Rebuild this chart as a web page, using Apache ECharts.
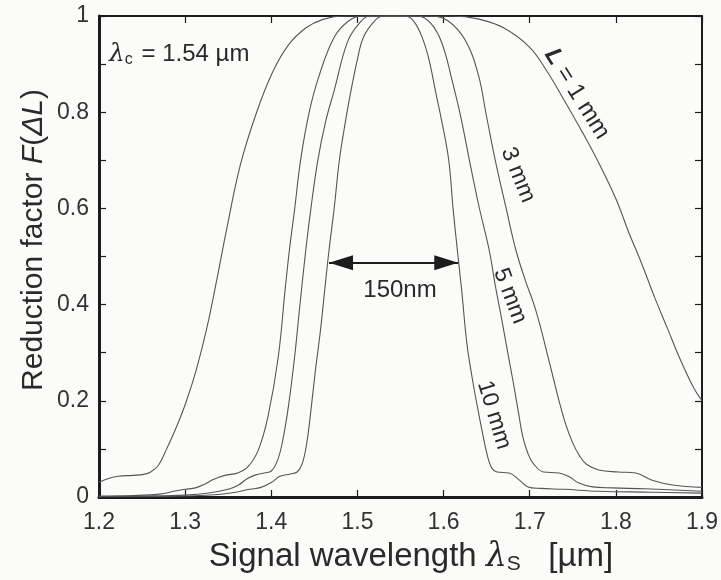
<!DOCTYPE html>
<html>
<head>
<meta charset="utf-8">
<script src="https://cdn.jsdelivr.net/npm/echarts@6/dist/echarts.min.js"></script>
<style>
  html, body { margin: 0; padding: 0; background: #fbfbfa; }
  #chart { width: 721px; height: 580px; }
</style>
</head>
<body>
<div id="chart"></div>
<script>
// Reduction factor F(ΔL) versus signal wavelength, one curve per length L.
// Each entry: [wavelength in µm, F]
const curveL1mm = [
  [1.200,0.030],[1.210,0.038],[1.222,0.043],[1.240,0.045],[1.252,0.047],[1.260,0.052],
  [1.269,0.066],[1.278,0.098],[1.290,0.146],[1.301,0.197],[1.313,0.265],[1.325,0.350],
  [1.336,0.445],[1.348,0.555],[1.364,0.690],[1.383,0.800],[1.402,0.885],[1.420,0.940],
  [1.440,0.975],[1.460,0.993],[1.485,1.000],
  [1.610,1.000],[1.640,0.994],[1.670,0.975],[1.700,0.935],[1.720,0.885],[1.740,0.825],
  [1.760,0.762],[1.780,0.695],[1.800,0.620],[1.815,0.550],[1.830,0.485],[1.845,0.415],
  [1.860,0.350],[1.875,0.285],[1.890,0.228],[1.900,0.200]
];
const curveL3mm = [
  [1.200,0.002],[1.240,0.003],[1.270,0.006],[1.290,0.013],[1.300,0.016],[1.312,0.019],
  [1.322,0.026],[1.332,0.036],[1.346,0.045],[1.361,0.050],[1.373,0.063],[1.385,0.098],
  [1.396,0.166],[1.408,0.290],[1.416,0.430],[1.421,0.513],[1.427,0.597],[1.434,0.700],
  [1.444,0.800],[1.455,0.873],[1.473,0.956],[1.490,0.990],[1.505,1.000],
  [1.585,1.000],[1.605,0.990],[1.625,0.950],[1.640,0.880],[1.650,0.790],[1.660,0.700],
  [1.672,0.605],[1.684,0.513],[1.695,0.450],[1.705,0.400],[1.713,0.350],[1.720,0.300],
  [1.727,0.250],[1.734,0.200],[1.742,0.150],[1.750,0.112],[1.758,0.085],[1.766,0.068],
  [1.780,0.056],[1.803,0.052],[1.823,0.050],[1.842,0.035],[1.866,0.025],[1.900,0.020]
];
const curveL5mm = [
  [1.200,0.001],[1.250,0.002],[1.300,0.004],[1.330,0.009],[1.350,0.016],[1.362,0.025],
  [1.372,0.038],[1.382,0.046],[1.392,0.050],[1.400,0.054],[1.407,0.075],[1.413,0.115],
  [1.420,0.190],[1.427,0.290],[1.433,0.395],[1.440,0.513],[1.446,0.600],[1.454,0.700],
  [1.463,0.780],[1.473,0.845],[1.488,0.944],[1.500,0.980],[1.515,1.000],
  [1.570,1.000],[1.585,0.985],[1.598,0.944],[1.610,0.865],[1.620,0.790],[1.630,0.700],
  [1.641,0.605],[1.653,0.513],[1.660,0.440],[1.667,0.374],[1.674,0.305],[1.681,0.237],
  [1.687,0.175],[1.692,0.125],[1.698,0.090],[1.704,0.070],[1.716,0.052],[1.734,0.050],
  [1.746,0.042],[1.757,0.029],[1.773,0.021],[1.796,0.019],[1.834,0.017],[1.900,0.012]
];
const curveL10mm = [
  [1.200,0.000],[1.300,0.002],[1.330,0.004],[1.355,0.009],[1.375,0.016],[1.388,0.020],
  [1.400,0.030],[1.410,0.043],[1.422,0.048],[1.430,0.052],[1.436,0.070],[1.441,0.110],
  [1.446,0.180],[1.451,0.260],[1.457,0.345],[1.462,0.430],[1.467,0.513],[1.473,0.600],
  [1.479,0.700],[1.486,0.780],[1.492,0.840],[1.500,0.910],[1.507,0.956],[1.520,0.990],
  [1.530,1.000],
  [1.555,1.000],[1.565,0.990],[1.575,0.956],[1.583,0.910],[1.591,0.840],[1.598,0.780],
  [1.606,0.700],[1.611,0.600],[1.616,0.513],[1.621,0.430],[1.627,0.320],[1.633,0.250],
  [1.639,0.190],[1.645,0.135],[1.651,0.085],[1.656,0.060],[1.662,0.052],[1.676,0.050],
  [1.688,0.035],[1.698,0.021],[1.712,0.018],[1.740,0.016],[1.780,0.012],[1.840,0.010],
  [1.900,0.008]
];

// Axis tick labels
const xTickLabels = ['1.2','1.3','1.4','1.5','1.6','1.7','1.8','1.9'];
const yTickLabels = ['0','0.2','0.4','0.6','0.8','1'];

// Bandwidth arrow for the 10 mm curve
const bandwidthNm = 150;
const arrowStart = 1.467;
const arrowLevel = 0.487;

const chart = echarts.init(document.getElementById('chart'), null, { renderer: 'canvas' });

const FONT = '"Liberation Sans", Arial, Helvetica, sans-serif';
const INK = '#1c1c1c';
const TEXT = '#2a2a2a';
const CURVE = '#555555';
const ARROW_LEN = 24;

const xBase = {
  type: 'value', min: 1.2, max: 1.9, interval: 0.1,
  splitLine: { show: false },
  axisTick: { inside: true, length: 7, lineStyle: { color: INK, width: 1.2 } }
};
const yBase = {
  type: 'value', min: 0, max: 1, interval: 0.1,
  splitLine: { show: false },
  axisTick: { inside: true, length: 7, lineStyle: { color: INK, width: 1.2 } }
};

function curveSeries(name, data, extra) {
  return Object.assign({
    name, type: 'line', data,
    xAxisIndex: 0, yAxisIndex: 0,
    showSymbol: false, smooth: 0.4,
    lineStyle: { color: CURVE, width: 1.1 },
    silent: true, z: 3
  }, extra || {});
}

const option = {
  backgroundColor: '#fbfbfa',
  animation: false,
  grid: { left: 99, top: 16, right: 17, bottom: 83, containLabel: false },
  xAxis: [
    Object.assign({}, xBase, {
      position: 'bottom',
      axisLine: { onZero: false, lineStyle: { color: INK, width: 3 } },
      axisLabel: {
        margin: 14, fontSize: 23, fontFamily: FONT, color: '#333',
        formatter: v => xTickLabels[Math.round((v - 1.2) * 10)] || ''
      }
    }),
    Object.assign({}, xBase, {
      position: 'top',
      axisLine: { onZero: false, lineStyle: { color: INK, width: 2 } },
      axisLabel: { show: false }
    })
  ],
  yAxis: [
    Object.assign({}, yBase, {
      position: 'left',
      axisLine: { onZero: false, show: true, lineStyle: { color: INK, width: 3 } },
      axisLabel: {
        margin: 10, fontSize: 23, fontFamily: FONT, color: '#333',
        formatter: v => {
          const k = Math.round(v * 10);
          return k % 2 === 0 ? yTickLabels[k / 2] : '';
        }
      }
    }),
    Object.assign({}, yBase, {
      position: 'right',
      axisLine: { onZero: false, show: true, lineStyle: { color: INK, width: 2 } },
      axisLabel: { show: false }
    })
  ],
  series: [
    curveSeries('L = 1 mm', curveL1mm),
    curveSeries('3 mm', curveL3mm),
    curveSeries('5 mm', curveL5mm),
    curveSeries('10 mm', curveL10mm, {
      markLine: {
        silent: true,
        symbol: ['triangle', 'triangle'],
        symbolSize: [15, ARROW_LEN],
        // pull each head inward so its tip sits on the end of the span
        symbolOffset: [[0, ARROW_LEN / 2], [0, ARROW_LEN / 2]],
        label: { show: false },
        lineStyle: { color: INK, width: 2, type: 'solid' },
        data: [[
          { coord: [arrowStart, arrowLevel] },
          { coord: [arrowStart + bandwidthNm / 1000, arrowLevel] }
        ]]
      }
    })
  ],
  graphic: [
    // λc annotation
    {
      type: 'text', x: 109, y: 54, z: 10,
      style: {
        text: '{l|λ}{s|c}{t| = 1.54 µm}',
        verticalAlign: 'middle',
        rich: {
          l: { font: 'italic 25px "DejaVu Serif", serif', fill: TEXT },
          s: { font: '16px ' + FONT, fill: TEXT, padding: [12, 2, 0, 0] },
          t: { font: '24px ' + FONT, fill: TEXT }
        }
      }
    },
    // curve labels
    {
      type: 'text', x: 577, y: 94, rotation: -58 * Math.PI / 180, z: 10,
      style: {
        text: '{b|L} = 1 mm', align: 'center', verticalAlign: 'middle',
        font: '24px ' + FONT, fill: TEXT,
        rich: { b: { font: 'italic bold 24px ' + FONT, fill: TEXT } }
      }
    },
    {
      type: 'text', x: 518, y: 175, rotation: -68 * Math.PI / 180, z: 10,
      style: { text: '3 mm', align: 'center', verticalAlign: 'middle', font: '23px ' + FONT, fill: TEXT }
    },
    {
      type: 'text', x: 510, y: 296, rotation: -69 * Math.PI / 180, z: 10,
      style: { text: '5 mm', align: 'center', verticalAlign: 'middle', font: '23px ' + FONT, fill: TEXT }
    },
    {
      type: 'text', x: 494, y: 415, rotation: -73 * Math.PI / 180, z: 10,
      style: { text: '10 mm', align: 'center', verticalAlign: 'middle', font: '23px ' + FONT, fill: TEXT }
    },
    {
      type: 'text', x: 400, y: 290, z: 10,
      style: { text: bandwidthNm + 'nm', align: 'center', verticalAlign: 'middle', font: '24px ' + FONT, fill: TEXT }
    },
    // axis titles
    {
      type: 'text', x: 411, y: 557, z: 10,
      style: {
        text: 'Signal wavelength {l|λ}{s|S}   [µm]',
        align: 'center', verticalAlign: 'middle',
        font: '33px ' + FONT, fill: TEXT,
        rich: {
          l: { font: 'italic 33px "DejaVu Serif", serif', fill: TEXT },
          s: { font: '21px ' + FONT, fill: TEXT, padding: [15, 0, 0, 0] }
        }
      }
    },
    {
      type: 'text', x: 34, y: 240, rotation: Math.PI / 2, z: 10,
      style: {
        text: 'Reduction factor {i|F}({i|ΔL})',
        align: 'center', verticalAlign: 'middle',
        font: '30px ' + FONT, fill: TEXT,
        rich: { i: { font: 'italic 30px ' + FONT, fill: TEXT } }
      }
    }
  ]
};

chart.setOption(option);
</script>
</body>
</html>
